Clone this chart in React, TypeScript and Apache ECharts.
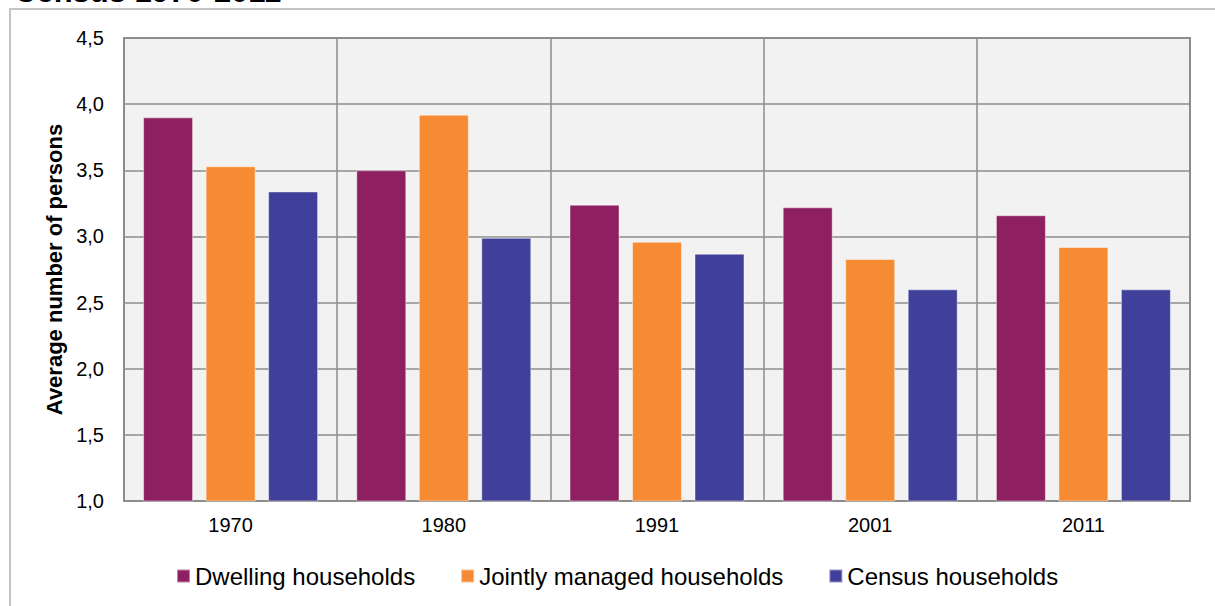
import React, { useEffect, useRef } from "react";
import * as echarts from "echarts";

// Census years
const categories = ["1970", "1980", "1991", "2001", "2011"];

// Average number of persons per household type
const dwellingHouseholds = [3.9, 3.5, 3.24, 3.22, 3.16];
const jointlyManagedHouseholds = [3.53, 3.92, 2.96, 2.83, 2.92];
const censusHouseholds = [3.34, 2.99, 2.87, 2.6, 2.6];

const seriesNames = [
  "Dwelling households",
  "Jointly managed households",
  "Census households",
];
const seriesColors = ["#8E1F60", "#F68B33", "#40409A"];

const titleText = "Census 1970-2011";
const yAxisTitle = "Average number of persons";

const FONT = "'Liberation Sans', Arial, Helvetica, sans-serif";

export default function App() {
  const ref = useRef<HTMLDivElement>(null);

  useEffect(() => {
    if (!ref.current) return;
    const chart = echarts.init(ref.current, undefined, { renderer: "svg" });

    const values = [dwellingHouseholds, jointlyManagedHouseholds, censusHouseholds];

    chart.setOption({
      animation: false,
      backgroundColor: "#ffffff",
      textStyle: { fontFamily: FONT },
      graphic: [
        {
          type: "rect",
          shape: { x: 10, y: 9, width: 1400, height: 800 },
          style: { fill: "none", stroke: "#c4c4c4", lineWidth: 2 },
          silent: true,
          z: -1,
        },
        {
          type: "text",
          x: 14,
          y: -9,
          style: {
            text: titleText,
            font: `bold 31px ${FONT}`,
            fill: "#000000",
            verticalAlign: "middle",
            align: "left",
          },
        },
      ],
      grid: {
        left: 124,
        right: 25,
        top: 38,
        bottom: 105,
        show: true,
        backgroundColor: "#f2f2f2",
        borderColor: "#8c8c8c",
        borderWidth: 2,
      },
      legend: {
        data: seriesNames,
        left: 176,
        top: 564,
        padding: 0,
        icon: "rect",
        itemWidth: 13,
        itemHeight: 13,
        itemGap: 45,
        textStyle: { fontSize: 24, color: "#000000", fontFamily: FONT },
      },
      xAxis: {
        type: "category",
        data: categories,
        axisTick: { show: false },
        axisLine: { show: false },
        axisLabel: { fontSize: 20, color: "#000000", margin: 14, fontFamily: FONT },
        splitLine: {
          show: true,
          interval: 0,
          lineStyle: { color: "#8c8c8c", width: 1.5 },
        },
      },
      yAxis: {
        type: "value",
        min: 1,
        max: 4.5,
        interval: 0.5,
        name: yAxisTitle,
        nameLocation: "middle",
        nameGap: 57,
        nameTextStyle: {
          fontSize: 22,
          fontWeight: "bold",
          color: "#000000",
          fontFamily: FONT,
        },
        axisLine: { show: false },
        axisTick: { show: false },
        axisLabel: {
          fontSize: 20,
          color: "#000000",
          margin: 20,
          fontFamily: FONT,
          formatter: (v: number) => v.toFixed(1).replace(".", ","),
        },
        splitLine: { show: true, lineStyle: { color: "#8c8c8c", width: 1.5 } },
      },
      series: seriesNames.map((name, i) => ({
        name,
        type: "bar",
        data: values[i],
        barWidth: 50,
        barGap: "25%",
        itemStyle: {
          color: seriesColors[i],
          borderColor: "rgba(255,255,255,0.45)",
          borderWidth: 1,
        },
      })),
    });

    return () => chart.dispose();
  }, []);

  return (
    <div
      ref={ref}
      style={{ position: "absolute", left: 0, top: 0, width: 1215, height: 606 }}
    />
  );
}
